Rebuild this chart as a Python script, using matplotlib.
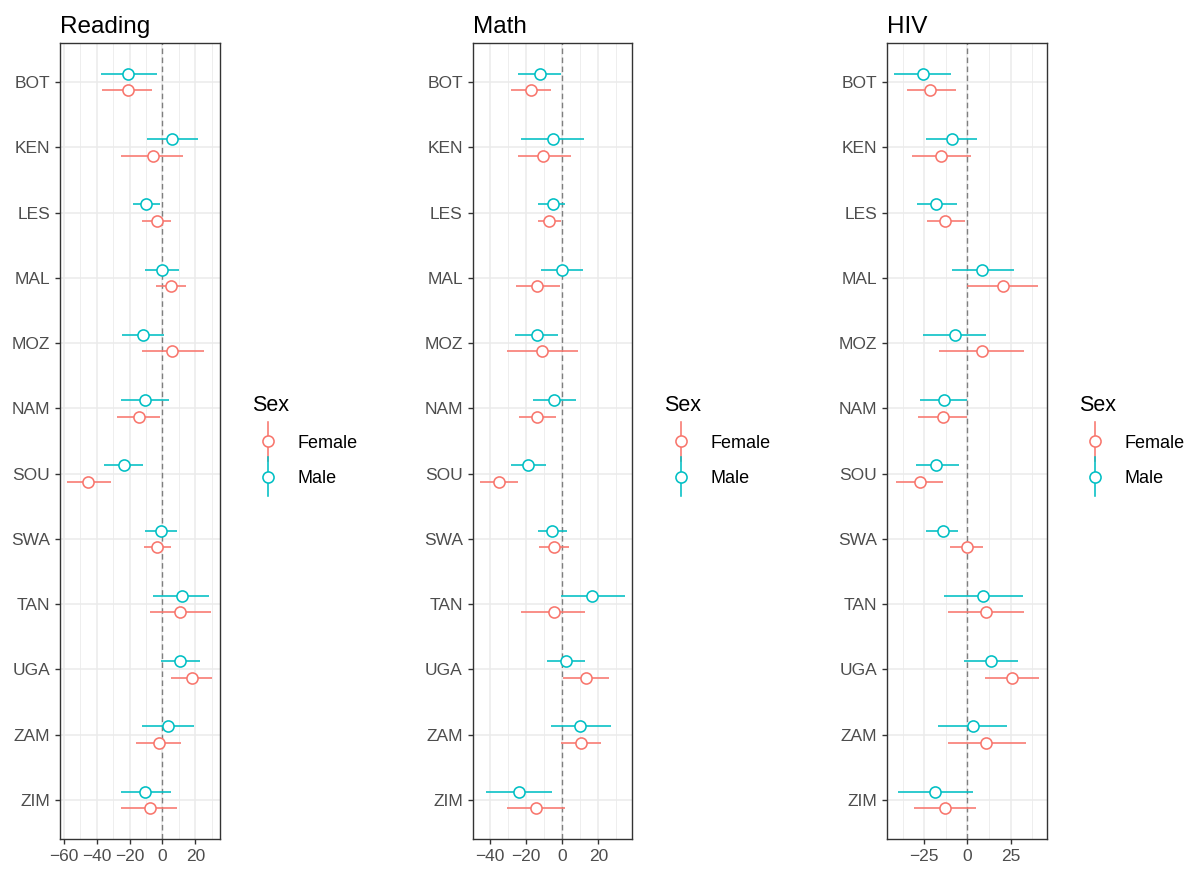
import matplotlib
matplotlib.use("Agg")
import matplotlib.pyplot as plt
import numpy as np
from matplotlib.lines import Line2D
from matplotlib.legend_handler import HandlerBase
from matplotlib.ticker import MultipleLocator

plt.rcParams['font.family'] = ['Liberation Sans', 'DejaVu Sans']

countries = ["BOT", "KEN", "LES", "MAL", "MOZ", "NAM", "SOU", "SWA", "TAN", "UGA", "ZAM", "ZIM"]

reading_f_est = [-21.0, -5.9, -3.4, 5.3, 6.0, -14.5, -45.2, -3.4, 10.7, 18.2, -2.2, -7.7]
reading_f_lo = [-36.6, -25.3, -12.3, -4.0, -12.3, -27.4, -58.0, -11.4, -7.7, 5.3, -16.1, -25.5]
reading_f_hi = [-6.3, 12.5, 4.9, 14.1, 25.4, -1.4, -31.5, 5.2, 29.3, 30.3, 11.5, 8.6]
reading_m_est = [-21.0, 6.0, -9.8, -0.4, -11.7, -10.8, -23.5, -1.2, 11.7, 10.7, 3.3, -10.8]
reading_m_lo = [-37.6, -9.6, -17.8, -10.6, -24.5, -25.5, -35.8, -10.6, -5.9, -1.2, -12.5, -25.5]
reading_m_hi = [-3.4, 21.7, -1.6, 9.8, 1.2, 4.1, -11.7, 8.8, 28.2, 22.7, 19.0, 4.9]

math_f_est = [-17.1, -10.5, -7.2, -13.9, -11.2, -13.9, -34.7, -4.6, -4.6, 13.0, 10.5, -14.7]
math_f_lo = [-28.6, -24.6, -13.6, -25.3, -30.4, -23.7, -45.5, -12.8, -22.9, 0.2, -0.9, -30.4]
math_f_hi = [-6.2, 4.6, -0.6, -1.3, 8.8, -3.7, -24.6, 3.9, 12.8, 25.7, 21.3, 1.3]
math_m_est = [-12.1, -5.3, -5.3, -0.2, -13.9, -4.6, -18.7, -5.5, 16.5, 2.2, 10.1, -23.8]
math_m_lo = [-24.6, -22.9, -13.6, -11.7, -26.2, -16.1, -28.6, -13.6, -0.9, -8.6, -6.2, -42.2]
math_m_hi = [-0.4, 12.1, 1.8, 11.4, -2.2, 7.7, -8.8, 2.9, 34.7, 12.8, 27.1, -5.5]

hiv_f_est = [-21.5, -15.4, -12.7, 20.6, 8.5, -14.4, -27.7, -0.4, 11.0, 25.8, 11.0, -12.7]
hiv_f_lo = [-35.2, -31.9, -23.1, 0.0, -16.2, -28.3, -41.5, -10.0, -11.0, 10.2, -11.0, -30.8]
hiv_f_hi = [-6.5, 2.3, -1.3, 40.8, 32.9, -0.4, -14.4, 9.2, 32.7, 41.5, 33.7, 4.8]
hiv_m_est = [-25.8, -9.0, -17.9, 8.5, -7.3, -13.5, -17.9, -14.2, 9.0, 13.7, 3.3, -18.7]
hiv_m_lo = [-42.3, -23.8, -29.0, -9.0, -25.8, -27.3, -30.0, -23.8, -13.5, -1.9, -16.9, -40.4]
hiv_m_hi = [-9.4, 5.6, -5.8, 26.7, 11.0, 0.0, -5.0, -5.6, 31.9, 29.2, 23.1, 3.1]

reading_ticks = [-60, -40, -20, 0, 20]
math_ticks = [-40, -20, 0, 20]
hiv_ticks = [-25, 0, 25]

sexes = ["Female", "Male"]
colors = {"Female": "#F8766D", "Male": "#00BFC4"}

panels = [
    ("Reading", reading_f_est, reading_f_lo, reading_f_hi, reading_m_est, reading_m_lo, reading_m_hi, reading_ticks, 10, 60),
    ("Math", math_f_est, math_f_lo, math_f_hi, math_m_est, math_m_lo, math_m_hi, math_ticks, 10, 472.7),
    ("HIV", hiv_f_est, hiv_f_lo, hiv_f_hi, hiv_m_est, hiv_m_lo, hiv_m_hi, hiv_ticks, 12.5, 887),
]

W, H = 1195, 872
AX_W = 159.5
fig = plt.figure(figsize=(W / 100, H / 100), dpi=100)

LW = 1.15
MS = 8.0


class PointRangeHandler(HandlerBase):
    def create_artists(self, legend, orig_handle, xdescent, ydescent, width, height, fontsize, trans):
        c = orig_handle.get_color()
        cx = width / 2 - xdescent
        cy = height / 2 - ydescent
        ext = 14
        ln = Line2D([cx, cx], [cy - ext, cy + ext], color=c, lw=LW, transform=trans)
        mk = Line2D([cx], [cy], marker='o', markersize=MS, markerfacecolor='white',
                    markeredgecolor=c, markeredgewidth=LW, linestyle='none', transform=trans)
        return [ln, mk]


ypos = np.arange(len(countries))
dodge = 0.125

for title, fe, fl, fh, me, ml, mh, ticks, minor_step, left_px in panels:
    ax = fig.add_axes([left_px / W, (H - 839) / H, AX_W / W, (839 - 43) / H])
    allv = np.array(fl + fh + ml + mh + fe + me)
    lo, hi = allv.min(), allv.max()
    pad = 0.05 * (hi - lo)
    ax.set_xlim(lo - pad, hi + pad)
    ax.set_ylim(len(countries) - 1 + 0.6, -0.6)

    ax.set_xticks(ticks)
    ax.xaxis.set_minor_locator(MultipleLocator(minor_step))
    ax.set_yticks(ypos)
    ax.set_yticklabels(countries)
    ax.grid(which='major', axis='both', color='#EBEBEB', lw=1.1, zorder=0)
    ax.grid(which='minor', axis='x', color='#EBEBEB', lw=0.6, zorder=0)
    ax.set_axisbelow(True)
    ax.tick_params(which='minor', length=0)
    ax.tick_params(which='major', length=3.6, width=1.0, color='#333333',
                   labelcolor='#4D4D4D', labelsize=12.5, pad=3.5)
    for s in ax.spines.values():
        s.set_color('#333333')
        s.set_linewidth(1.0)

    ax.axvline(0, color='#7F7F7F', lw=1.0, linestyle=(0, (4, 2.5)), zorder=1)

    handles = []
    for sex, est, l, h, off in [("Female", fe, fl, fh, dodge), ("Male", me, ml, mh, -dodge)]:
        c = colors[sex]
        yy = ypos + off
        ax.hlines(yy, l, h, color=c, lw=LW, zorder=2)
        ax.plot(est, yy, linestyle='none', marker='o', markersize=MS,
                markerfacecolor='white', markeredgecolor=c, markeredgewidth=LW, zorder=3)
        handles.append(Line2D([], [], color=c, label=sex))

    ax.set_title(title, loc='left', fontsize=17.5, pad=7, color='black')

    ax.legend(handles=handles, labels=sexes, title="Sex", loc='center left',
              bbox_to_anchor=((235.5 - 60) / AX_W, 0.5),
              frameon=False, fontsize=13, title_fontsize=15.5,
              handler_map={Line2D: PointRangeHandler()},
              handlelength=1.85, handleheight=1.0, handletextpad=0.7,
              labelspacing=0.95, borderpad=0.4, alignment='left')

fig.savefig("out.png", dpi=100)
